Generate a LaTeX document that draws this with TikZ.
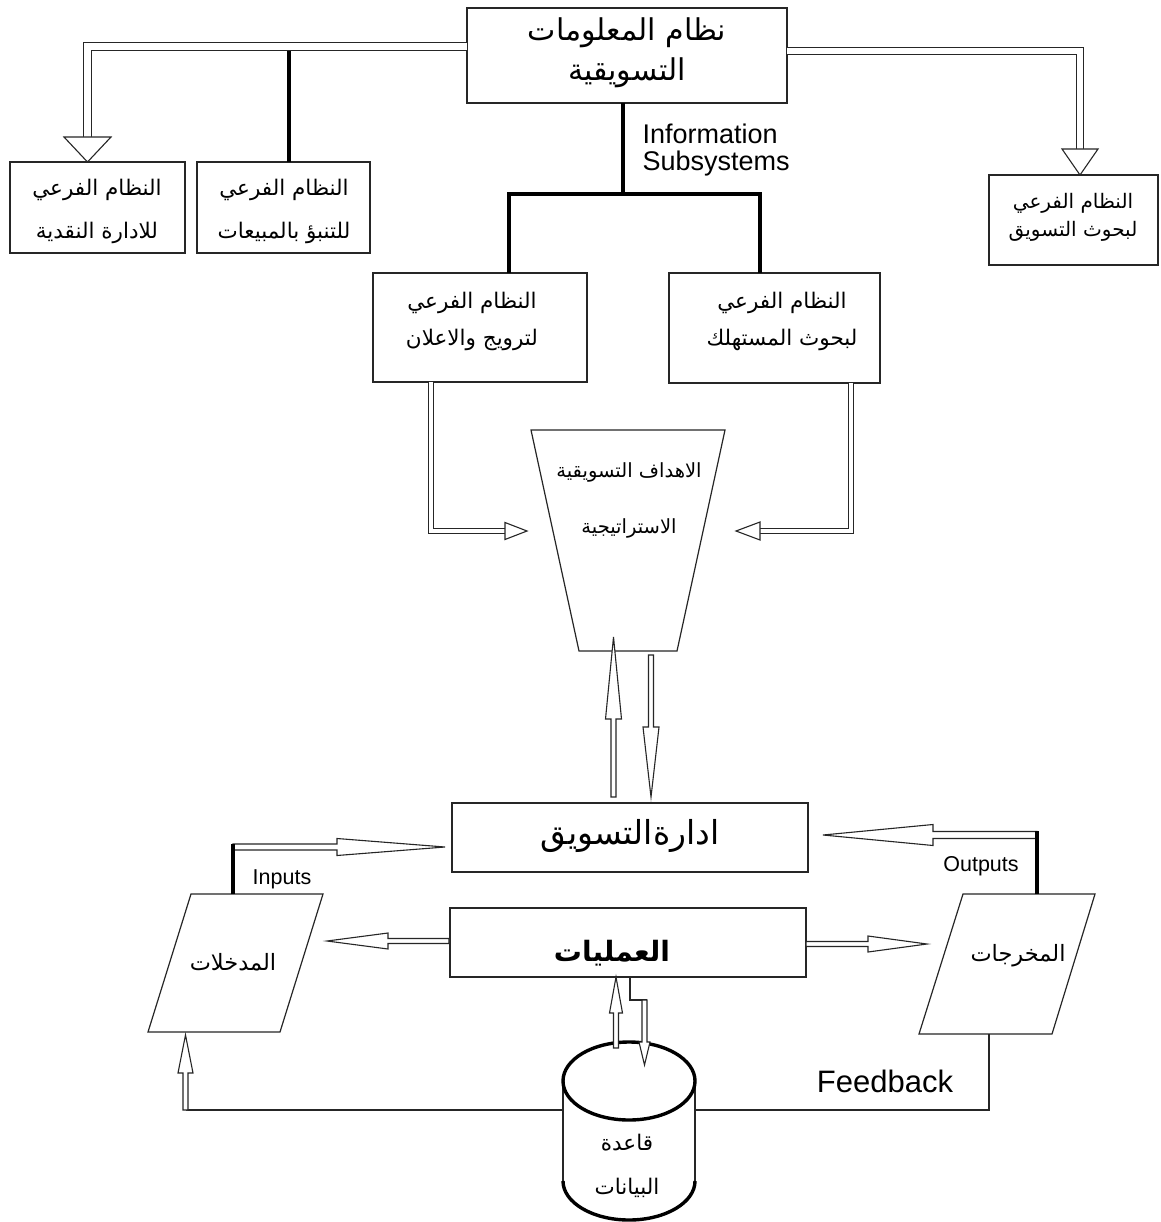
\documentclass[tikz,border=0pt]{standalone}
\usepackage{fontspec}
\setmainfont{Liberation Sans}
\newfontfamily\arabicfont[Script=Arabic]{DejaVu Sans}
\TeXXeTstate=1
\usetikzlibrary{calc}
\newcommand{\artxt}[1]{{\arabicfont\beginR #1\endR}}
\newcommand{\hollowhead}[3]{%
  \filldraw[headst] ($(#1)!#3!90:(#2)$) -- (#2) -- ($(#1)!#3!-90:(#2)$) -- cycle;}
\newcommand{\blockarrow}[5]{% start, tip, shaft half width, head half width, head length
  \coordinate (aB) at ($(#2)!#5!(#1)$);
  \filldraw[headst] ($(#1)!#3!90:(#2)$) -- ($(aB)!#3!-90:(#1)$) -- ($(aB)!#4!-90:(#1)$) -- (#2)
    -- ($(aB)!#4!90:(#1)$) -- ($(aB)!#3!90:(#1)$) -- ($(#1)!#3!-90:(#2)$) -- cycle;}
\tikzset{
  box/.style={draw=black!85, line width=1.2pt, fill=white, inner sep=0pt},
  shp/.style={draw=black!85, line width=1.2pt, fill=white},
  thinln/.style={draw=black!85, line width=1.2pt},
  thickln/.style={draw=black, line width=3.2pt},
  dbl/.style={draw=black!85, double=white, double distance=#1, line width=1.1pt, line join=miter},
  dbl/.default=6pt,
  headst/.style={fill=white, draw=black!85, line width=1.1pt, line join=miter},
  arL/.style={font=\arabicfont\fontsize{30}{34}\selectfont},
  arXL/.style={font=\arabicfont\fontsize{33}{37}\selectfont},
  arM/.style={font=\arabicfont\fontsize{21.5}{25}\selectfont},
  arT/.style={font=\arabicfont\fontsize{19.5}{23}\selectfont},
  arS/.style={font=\arabicfont\fontsize{20}{23}\selectfont},
  enM/.style={font=\fontsize{27}{31}\selectfont},
  enS/.style={font=\fontsize{21.5}{25}\selectfont}
}
\begin{document}
\begin{tikzpicture}[x=1pt,y=-1pt]
\useasboundingbox[fill=white] (0,0) rectangle (1160,1222);

% ---------- boxes ----------
\node[box, minimum width=320, minimum height=95] (top) at (627,55.5) {};
\node[box, minimum width=175, minimum height=91] (b1) at (97.5,207.5) {};
\node[box, minimum width=173, minimum height=91] (b2) at (283.5,207.5) {};
\node[box, minimum width=169, minimum height=90] (b3) at (1073.5,220) {};
\node[box, minimum width=214, minimum height=109] (b4) at (480,327.5) {};
\node[box, minimum width=211, minimum height=110] (b5) at (774.5,328) {};
\node[box, minimum width=356, minimum height=69] (mgmt) at (630,837.5) {};
\node[box, minimum width=356, minimum height=69] (ops) at (628,942.5) {};

% trapezoid
\draw[shp] (531,430) coordinate (tA) -- (725,430) coordinate (tB) -- (677,651) coordinate (tC) -- (579,651) coordinate (tD) -- cycle;
% parallelograms
\draw[shp] (191,894) coordinate (iA) -- (323,894) coordinate (iB) -- (280,1032) coordinate (iC) -- (148,1032) coordinate (iD) -- cycle;
\draw[shp] (963,894) coordinate (oA) -- (1095,894) coordinate (oB) -- (1052,1034) coordinate (oC) -- (919,1034) coordinate (oD) -- cycle;

% database cylinder
\coordinate (dbT) at (629,1081);
\coordinate (dbB) at (629,1181);
\fill[white] (563,1081) rectangle (695,1181);
\draw[thinln] (563,1081) -- (563,1181);
\draw[thinln] (695,1081) -- (695,1181);
\filldraw[fill=white, draw=black, line width=3.4pt] (dbT) ellipse [x radius=66, y radius=39];
\draw[black, line width=3.4pt] (563,1181) arc [start angle=180, end angle=0, x radius=66, y radius=39];

% ---------- texts ----------
\node[arL] at (627,33) {\artxt{نظام المعلومات}};
\node[arL] at (627,73) {\artxt{التسويقية}};
\node[arM] at (97,190) {\artxt{النظام الفرعي}};
\node[arM] at (97,233) {\artxt{للادارة النقدية}};
\node[arM] at (284,190) {\artxt{النظام الفرعي}};
\node[arM] at (284,233) {\artxt{للتنبؤ بالمبيعات}};
\node[arS] at (1073,203) {\artxt{النظام الفرعي}};
\node[arS] at (1073,231) {\artxt{لبحوث التسويق}};
\node[arM] at (472,303) {\artxt{النظام الفرعي}};
\node[arM] at (472,340) {\artxt{لترويج والاعلان}};
\node[arM] at (782,303) {\artxt{النظام الفرعي}};
\node[arM] at (782,340) {\artxt{لبحوث المستهلك}};
\node[arT] at (629,472) {\artxt{الاهداف التسويقية}};
\node[arT] at (629,528) {\artxt{الاستراتيجية}};
\node[arXL] at (630,836) {\artxt{ادارةالتسويق}};
\node[font=\arabicfont\bfseries\fontsize{28}{32}\selectfont] at (612,953) {\artxt{العمليات}};
\node[font=\arabicfont\fontsize{22.5}{26}\selectfont] at (233,962) {\artxt{المدخلات}};
\node[font=\arabicfont\fontsize{22.5}{26}\selectfont] at (1018,956) {\artxt{المخرجات}};
\node[arM] at (627,1143) {\artxt{قاعدة}};
\node[arM] at (627,1188) {\artxt{البيانات}};

\node[enM, anchor=west] (info1) at (639,134) {Information};
\node[enM, anchor=west] (info2) at (639,164) {Subsystems};
\node[enS] (inl) at (282,879) {Inputs};
\node[enS] (outl) at (981,866) {Outputs};
\node[font=\fontsize{31}{35}\selectfont] (fbl) at (885,1081) {Feedback};

% ---------- connectors ----------
% thick tree lines
\draw[thickln] (289,46) -- (289,162);
\draw[thickln] (623,103) -- (623,194);
\draw[thickln, line join=miter] (509,273) -- (509,194) -- (760,194) -- (760,273);

% top-left double arrow to b1
\coordinate (tl0) at (467,46.5);
\coordinate (tlB) at (87.5,137);
\coordinate (tlT) at (87.5,162);
\draw[dbl=7pt] (tl0) -| (tlB);
\hollowhead{tlB}{tlT}{23.5pt}

% top-right double arrow to b3
\coordinate (tr0) at (787,51);
\coordinate (trB) at (1080,149);
\coordinate (trT) at (1080,175);
\draw[dbl=6pt] (tr0) -| (trB);
\hollowhead{trB}{trT}{18pt}

% b4 -> trapezoid
\coordinate (l0) at (431,382);
\coordinate (lB) at (505,531);
\coordinate (lT) at (527,531);
\draw[dbl=4pt] (l0) |- (lB);
\hollowhead{lB}{lT}{8.5pt}

% b5 -> trapezoid
\coordinate (r0) at (851,383);
\coordinate (rB) at (760,531);
\coordinate (rT) at (736,531);
\draw[dbl=4pt] (r0) |- (rB);
\hollowhead{rB}{rT}{9pt}

% mgmt <-> trapezoid
\coordinate (u0) at (613.5,797);
\coordinate (uT) at (613.5,637);
\blockarrow{u0}{uT}{2.5pt}{8pt}{82pt}
\coordinate (d0) at (651,655);
\coordinate (dT) at (651,797);
\blockarrow{d0}{dT}{2.5pt}{8pt}{70pt}

% inputs -> mgmt
\coordinate (in0) at (233,847);
\coordinate (inT) at (445,847);
\blockarrow{in0}{inT}{3pt}{8.5pt}{108pt}
\draw[thickln] (233,894) -- (233,843.5);

% outputs -> mgmt
\coordinate (ou0) at (1037,835);
\coordinate (ouT) at (823,835);
\blockarrow{ou0}{ouT}{3.5pt}{10.5pt}{110pt}
\draw[thickln] (1037,894) -- (1037,831);

% ops -> inputs / outputs
\coordinate (oi0) at (449,941);
\coordinate (oiT) at (327,941);
\blockarrow{oi0}{oiT}{2.5pt}{8pt}{61pt}
\coordinate (oo0) at (806,944);
\coordinate (ooT) at (927,944);
\blockarrow{oo0}{ooT}{2.5pt}{8pt}{59pt}

% database <-> ops
\coordinate (du0) at (616,1048);
\coordinate (duT) at (616,977);
\blockarrow{du0}{duT}{2.5pt}{6.5pt}{36pt}
\draw[thinln, line width=1.1pt] (630,977) -- (630,1000) -- (647,1000);
\coordinate (dd0) at (644.5,1000);
\coordinate (ddT) at (644.5,1065);
\blockarrow{dd0}{ddT}{2.5pt}{5.5pt}{23pt}

% feedback
\coordinate (fb0) at (989,1034);
\coordinate (fb1) at (989,1110);
\coordinate (fbR) at (695,1110);
\coordinate (fbL) at (563,1110);
\coordinate (fbC) at (185.5,1110);
\coordinate (fbT) at (185.5,1035);
\draw[thinln] (fb0) -- (fb1) -- (fbR);
\draw[thinln] (fbL) -- (fbC);
\blockarrow{fbC}{fbT}{2.5pt}{7.5pt}{38pt}
\end{tikzpicture}
\end{document}
